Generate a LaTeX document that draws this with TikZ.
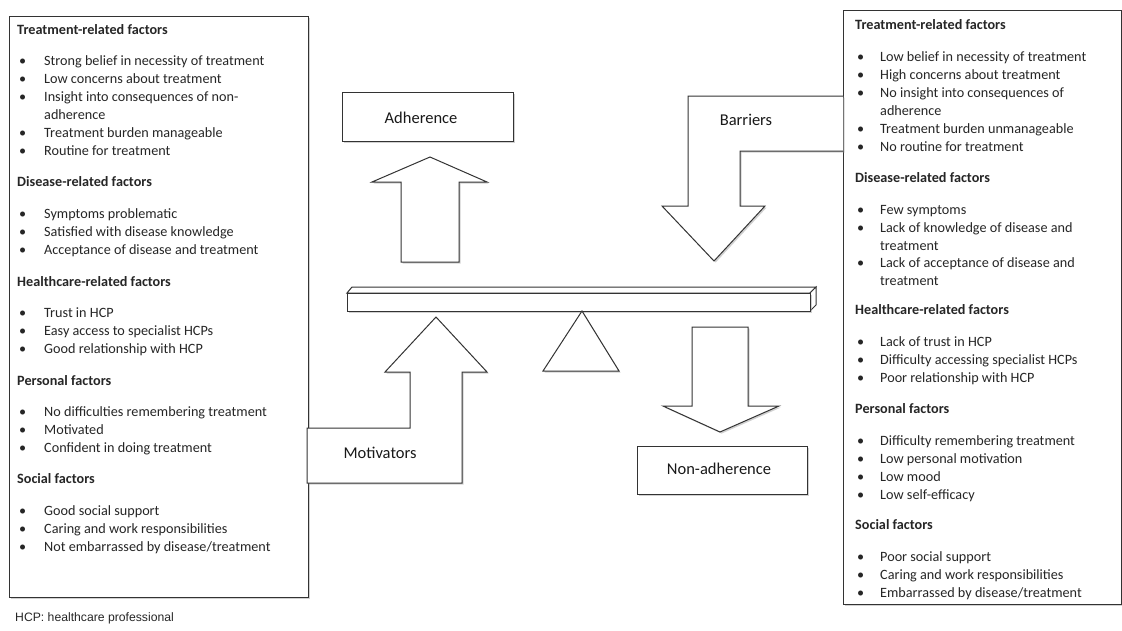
\documentclass[tikz,border=0pt]{standalone}
\usepackage{fontspec}
\setmainfont{Carlito}
\newfontfamily\arialf{Liberation Sans}
\usetikzlibrary{shadows}
\tikzset{
  shp/.style={draw=black!80,line width=1pt,fill=white,line join=miter,
    drop shadow={shadow xshift=1.6pt,shadow yshift=-1.6pt,fill=black!40,opacity=0.45}},
  flat/.style={draw=black!80,line width=1pt,fill=white,line join=miter},
  hd/.style={anchor=base west,inner sep=0pt,font=\fontsize{14.2}{17}\selectfont\bfseries,text=black!85},
  txt/.style={anchor=base west,inner sep=0pt,font=\fontsize{14.2}{17}\selectfont,text=black!85},
  lbl/.style={inner sep=0pt,font=\fontsize{16.5}{19}\selectfont,text=black!90},
}
\newcommand\hditem[4]{\node[hd] (#1) at (#2,#3+4) {#4};}
\newcommand\bitem[5]{\node[txt] (#1b) at (#2,#4+4) {\textbullet}; \node[txt] (#1) at (#3,#4+4) {#5};}
\newcommand\citem[4]{\node[txt] (#1) at (#2,#3+4) {#4};}
\begin{document}
\begin{tikzpicture}[x=1pt,y=-1pt]
\useasboundingbox (0,0) rectangle (1122,630);
% side boxes
\draw[shp] (9,16) rectangle (308,597);
\draw[shp] (843,10) rectangle (1121,604);
% adherence box and arrow
\draw[shp] (342,92) rectangle (513,141);
\node[lbl] (adh) at (421,118) {Adherence};
\draw[shp] (401,262) -- (401,182) -- (372,182) -- (430,157) -- (487,182) -- (459,182) -- (459,262) -- cycle;
% barriers arrow
\draw[shp] (843,96) -- (688,96) -- (688,206) -- (662,206) -- (714,261) -- (765,206) -- (740,206) -- (740,151) -- (843,151);
\node[lbl] (bar) at (746,120) {Barriers};
% beam
\draw[flat] (347,293) -- (352,287) -- (816,287) -- (810,293) -- cycle;
\draw[flat] (810,293) -- (816,287) -- (816,305) -- (810,311) -- cycle;
\draw[shp] (347,293) rectangle (810,311);
% fulcrum
\draw[shp] (582,311) -- (619,371) -- (543,371) -- cycle;
% motivators arrow
\draw[shp] (307,428) -- (410,428) -- (410,372) -- (385,372) -- (436,317) -- (487,372) -- (462,372) -- (462,483) -- (307,483) -- cycle;
\node[lbl] (mot) at (380,453) {Motivators};
% non-adherence arrow and box
\draw[shp] (692,327) -- (748,327) -- (748,406) -- (779,406) -- (720,432) -- (663,406) -- (692,406) -- cycle;
\draw[shp] (637,446) rectangle (807,494);
\node[lbl] (nad) at (719,469) {Non-adherence};
% left box text
\hditem{L1}{17}{30}{Treatment-related factors}
\bitem{L2}{19}{44}{61}{Strong belief in necessity of treatment}
\bitem{L3}{19}{44}{79}{Low concerns about treatment}
\bitem{L4}{19}{44}{97}{Insight into consequences of non-}
\citem{L5}{44}{115}{adherence}
\bitem{L6}{19}{44}{133}{Treatment burden manageable}
\bitem{L7}{19}{44}{151}{Routine for treatment}
\hditem{L8}{17}{182}{Disease-related factors}
\bitem{L9}{19}{44}{214}{Symptoms problematic}
\bitem{L10}{19}{44}{232}{Satisfied with disease knowledge}
\bitem{L11}{19}{44}{250}{Acceptance of disease and treatment}
\hditem{L12}{17}{282}{Healthcare-related factors}
\bitem{L13}{19}{44}{313}{Trust in HCP}
\bitem{L14}{19}{44}{331}{Easy access to specialist HCPs}
\bitem{L15}{19}{44}{349}{Good relationship with HCP}
\hditem{L16}{17}{381}{Personal factors}
\bitem{L17}{19}{44}{412}{No difficulties remembering treatment}
\bitem{L18}{19}{44}{430}{Motivated}
\bitem{L19}{19}{44}{448}{Confident in doing treatment}
\hditem{L20}{17}{479}{Social factors}
\bitem{L21}{19}{44}{511}{Good social support}
\bitem{L22}{19}{44}{529}{Caring and work responsibilities}
\bitem{L23}{19}{44}{547}{Not embarrassed by disease/treatment}
% right box text
\hditem{R1}{855}{25}{Treatment-related factors}
\bitem{R2}{857}{880}{57}{Low belief in necessity of treatment}
\bitem{R3}{857}{880}{75}{High concerns about treatment}
\bitem{R4}{857}{880}{93}{No insight into consequences of}
\citem{R5}{880}{111}{adherence}
\bitem{R6}{857}{880}{129}{Treatment burden unmanageable}
\bitem{R7}{857}{880}{147}{No routine for treatment}
\hditem{R8}{855}{178}{Disease-related factors}
\bitem{R9}{857}{880}{210}{Few symptoms}
\bitem{R10}{857}{880}{228}{Lack of knowledge of disease and}
\citem{R11}{880}{246}{treatment}
\bitem{R12}{857}{880}{263}{Lack of acceptance of disease and}
\citem{R13}{880}{281}{treatment}
\hditem{R14}{855}{310}{Healthcare-related factors}
\bitem{R15}{857}{880}{342}{Lack of trust in HCP}
\bitem{R16}{857}{880}{360}{Difficulty accessing specialist HCPs}
\bitem{R17}{857}{880}{378}{Poor relationship with HCP}
\hditem{R18}{855}{409}{Personal factors}
\bitem{R19}{857}{880}{441}{Difficulty remembering treatment}
\bitem{R20}{857}{880}{459}{Low personal motivation}
\bitem{R21}{857}{880}{477}{Low mood}
\bitem{R22}{857}{880}{495}{Low self-efficacy}
\hditem{R23}{855}{525}{Social factors}
\bitem{R24}{857}{880}{557}{Poor social support}
\bitem{R25}{857}{880}{575}{Caring and work responsibilities}
\bitem{R26}{857}{880}{593}{Embarrassed by disease/treatment}
% footnote
\node[anchor=base west,inner sep=0pt,font=\arialf\fontsize{12.2}{14}\selectfont,text=black!85] (foot) at (15,621) {HCP: healthcare professional};
\end{tikzpicture}
\end{document}
